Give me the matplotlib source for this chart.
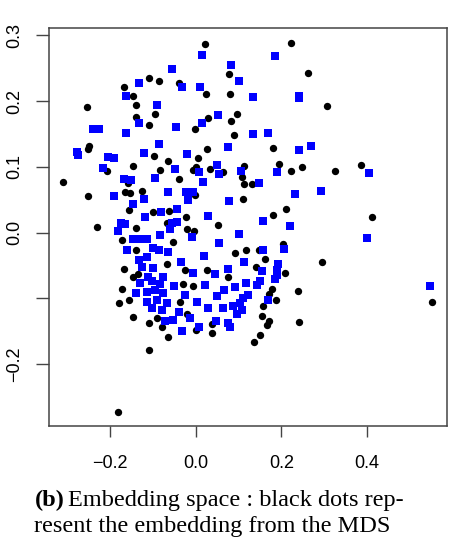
import matplotlib
matplotlib.use("Agg")
import matplotlib.pyplot as plt

# ---- data (MDS embedding: black; other embedding: blue) ----
black_x = [0.022, 0.222, 0.078, 0.262, -0.109, -0.086, -0.039, -0.167, -0.146, 0.023,
           0.080, -0.254, -0.140, 0.307, -0.094, 0.097, -0.140, 0.029, 0.082, -0.110,
           -0.002, 0.089, -0.249, -0.250, 0.027, 0.181, -0.097, 0.006, -0.064, 0.195,
           -0.145, 0.113, 0.249, 0.386, -0.207, -0.083, 0.001, -0.007, 0.033, 0.064,
           0.222, 0.325, -0.309, -0.039, 0.109, 0.112, 0.131, -0.250, -0.164, -0.153,
           -0.126, -0.002, 0.111, -0.155, -0.099, -0.062, -0.023, -0.231, -0.068, 0.053,
           0.181, 0.210, 0.412, -0.020, -0.004, -0.138, -0.171, -0.052, -0.138, 0.092,
           0.117, 0.148, 0.203, 0.162, 0.294, -0.166, -0.068, -0.025, 0.026, 0.141,
           0.208, -0.145, -0.134, 0.076, -0.172, -0.029, -0.006, 0.177, 0.238, -0.155,
           -0.179, -0.037, 0.172, 0.188, 0.551, -0.147, -0.110, -0.090, -0.078, -0.020,
           0.000, 0.037, 0.158, 0.155, 0.166, 0.172, 0.241, -0.065, 0.039, 0.150,
           0.135, -0.108, -0.180, -0.157]
black_y = [0.287, 0.288, 0.241, 0.242, 0.235, 0.231, 0.227, 0.222, 0.208, 0.210,
           0.211, 0.191, 0.194, 0.192, 0.181, 0.180, 0.175, 0.174, 0.169, 0.163,
           0.157, 0.148, 0.131, 0.127, 0.127, 0.129, 0.116, 0.114, 0.109, 0.105,
           0.101, 0.101, 0.099, 0.102, 0.093, 0.095, 0.100, 0.095, 0.096, 0.092,
           0.093, 0.093, 0.077, 0.082, 0.085, 0.074, 0.074, 0.055, 0.061, 0.060,
           0.063, 0.057, 0.051, 0.034, 0.031, 0.033, 0.023, 0.008, 0.014, 0.012,
           0.026, 0.036, 0.023, 0.005, 0.003, 0.007, -0.012, -0.014, -0.026, -0.031,
           -0.027, -0.027, -0.018, -0.040, -0.044, -0.056, -0.047, -0.057, -0.057, -0.053,
           -0.061, -0.067, -0.063, -0.068, -0.086, -0.078, -0.081, -0.086, -0.089, -0.103,
           -0.107, -0.105, -0.093, -0.103, -0.105, -0.128, -0.138, -0.130, -0.143, -0.123,
           -0.148, -0.139, -0.111, -0.127, -0.140, -0.135, -0.136, -0.158, -0.153, -0.155,
           -0.166, -0.178, -0.272, 0.075]

blue_x = [0.014, 0.186, -0.055, 0.083, -0.131, 0.102, -0.033, 0.010, -0.162, 0.133,
          0.241, 0.241, -0.090, 0.051, -0.240, -0.225, -0.132, -0.047, 0.015, -0.162,
          0.133, 0.169, -0.086, 0.076, 0.242, 0.269, -0.276, -0.274, -0.121, -0.020,
          -0.204, -0.190, -0.215, -0.048, 0.049, 0.008, 0.054, 0.106, 0.190, 0.403,
          -0.096, -0.168, -0.151, 0.018, 0.148, -0.190, -0.065, -0.023, -0.007, 0.231,
          0.292, -0.146, -0.120, -0.017, 0.078, -0.080, -0.044, -0.117, 0.028, 0.158,
          0.221, -0.175, -0.165, -0.181, -0.056, -0.044, -0.060, -0.083, -0.009, 0.100,
          0.400, -0.147, -0.130, -0.114, 0.054, -0.161, -0.099, -0.085, -0.064, 0.019,
          0.158, 0.206, -0.132, -0.114, -0.034, 0.113, 0.193, -0.124, -0.099, -0.007,
          0.075, 0.155, 0.189, 0.190, 0.186, -0.112, -0.076, 0.045, -0.130, -0.103,
          -0.083, -0.051, 0.022, 0.066, 0.092, 0.117, 0.142, 0.151, -0.139, -0.114,
          -0.095, -0.076, -0.025, 0.049, 0.123, 0.111, 0.169, -0.114, -0.091, -0.068,
          0.002, 0.103, 0.088, -0.103, -0.079, -0.039, 0.029, 0.064, 0.097, 0.107,
          -0.072, -0.052, -0.013, 0.047, 0.076, 0.080, -0.033, 0.008, 0.546]
blue_y = [0.270, 0.268, 0.248, 0.255, 0.227, 0.231, 0.221, 0.221, 0.207, 0.206,
          0.208, 0.204, 0.194, 0.179, 0.158, 0.158, 0.166, 0.161, 0.167, 0.152,
          0.150, 0.152, 0.134, 0.130, 0.126, 0.132, 0.122, 0.118, 0.121, 0.119,
          0.115, 0.114, 0.098, 0.096, 0.103, 0.092, 0.089, 0.093, 0.092, 0.090,
          0.083, 0.081, 0.080, 0.077, 0.076, 0.056, 0.061, 0.061, 0.061, 0.059,
          0.063, 0.044, 0.051, 0.050, 0.048, 0.031, 0.036, 0.023, 0.025, 0.018,
          0.010, 0.014, 0.013, 0.003, 0.014, 0.016, 0.005, -0.003, -0.006, -0.002,
          -0.008, -0.009, -0.010, -0.010, -0.016, -0.026, -0.024, -0.026, -0.029, -0.035,
          -0.026, -0.025, -0.041, -0.037, -0.044, -0.045, -0.048, -0.053, -0.054, -0.061,
          -0.056, -0.058, -0.057, -0.064, -0.071, -0.067, -0.067, -0.063, -0.077, -0.074,
          -0.078, -0.081, -0.079, -0.087, -0.083, -0.077, -0.079, -0.074, -0.092, -0.091,
          -0.087, -0.092, -0.095, -0.097, -0.095, -0.100, -0.102, -0.105, -0.102, -0.107,
          -0.105, -0.107, -0.112, -0.115, -0.117, -0.120, -0.115, -0.115, -0.123, -0.117,
          -0.135, -0.133, -0.130, -0.135, -0.138, -0.143, -0.150, -0.144, -0.081]

x_ticks = [-0.2, 0.0, 0.2, 0.4]
x_tick_labels = ["\u22120.2", "0.0", "0.2", "0.4"]
y_ticks = [-0.2, -0.1, 0.0, 0.1, 0.2, 0.3]
y_tick_labels = ["\u22120.2", "", "0.0", "0.1", "0.2", "0.3"]

caption_bold = "(b)"
caption_line1 = "Embedding space : black dots rep-"
caption_line2 = "resent the embedding from the MDS"

# ---- figure ----
W, H = 451, 538
fig = plt.figure(figsize=(W / 100, H / 100), dpi=100)
ax = fig.add_axes([49 / W, (H - 426) / H, (447 - 49) / W, (426 - 28) / H])

ax.scatter(black_x, black_y, s=28, c="black", marker="o", linewidths=0, zorder=2)
ax.scatter(blue_x, blue_y, s=38, c="#0000ff", marker="s", linewidths=0, zorder=3)

ax.set_xlim(-0.342, 0.586)
ax.set_ylim(-0.294, 0.311)

ax.set_xticks(x_ticks)
ax.set_xticklabels(x_tick_labels)
ax.set_yticks(y_ticks)
ax.set_yticklabels(y_tick_labels, rotation=90, va="center")

for sp in ax.spines.values():
    sp.set_color("#444444")
    sp.set_linewidth(1.1)

ax.tick_params(axis="x", direction="out", length=8, width=1.0, color="#444444",
               pad=13, labelsize=13)
ax.tick_params(axis="y", direction="out", length=9.5, width=1.0, color="#444444",
               pad=9, labelsize=13)
for lab in ax.get_xticklabels() + ax.get_yticklabels():
    lab.set_fontfamily("Liberation Sans")

# caption
fig.canvas.draw()
r = fig.canvas.get_renderer()
fs = 17.5
t_b = fig.text(35 / W, (H - 506) / H, caption_bold, fontfamily="Liberation Serif",
               fontweight="bold", fontsize=fs, va="baseline", ha="left")
bb = t_b.get_window_extent(renderer=r)
fig.text((bb.x1 + 3) / W, (H - 506) / H, caption_line1, fontfamily="Liberation Serif",
         fontsize=fs, va="baseline", ha="left")
fig.text(34 / W, (H - 532) / H, caption_line2, fontfamily="Liberation Serif",
         fontsize=fs, va="baseline", ha="left")

fig.savefig("out.png", dpi=100)
